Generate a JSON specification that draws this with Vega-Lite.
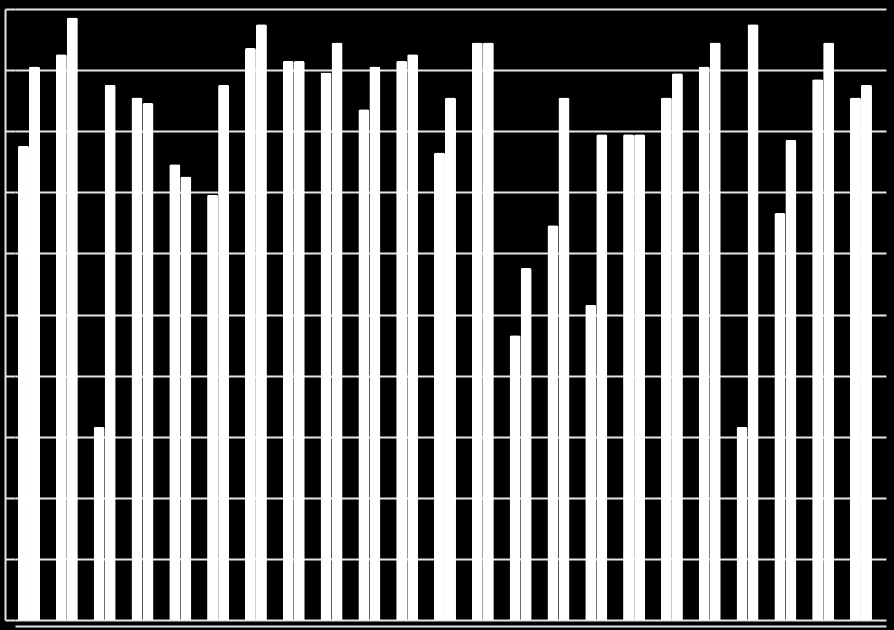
{
  "$schema": "https://vega.github.io/schema/vega-lite/v6.json",
  "width": 871,
  "height": 611,
  "autosize": {"type": "none"},
  "padding": {"left": 15, "top": 9, "right": 8, "bottom": 10},
  "background": "black",
  "data": {
    "values": [
      {"group": 1, "series": "A", "value": 77.6}, {"group": 1, "series": "B", "value": 90.6},
      {"group": 2, "series": "A", "value": 92.6}, {"group": 2, "series": "B", "value": 98.6},
      {"group": 3, "series": "A", "value": 31.6}, {"group": 3, "series": "B", "value": 87.6},
      {"group": 4, "series": "A", "value": 85.5}, {"group": 4, "series": "B", "value": 84.6},
      {"group": 5, "series": "A", "value": 74.6}, {"group": 5, "series": "B", "value": 72.6},
      {"group": 6, "series": "A", "value": 69.6}, {"group": 6, "series": "B", "value": 87.6},
      {"group": 7, "series": "A", "value": 93.6}, {"group": 7, "series": "B", "value": 97.5},
      {"group": 8, "series": "A", "value": 91.5}, {"group": 8, "series": "B", "value": 91.5},
      {"group": 9, "series": "A", "value": 89.6}, {"group": 9, "series": "B", "value": 94.5},
      {"group": 10, "series": "A", "value": 83.6}, {"group": 10, "series": "B", "value": 90.6},
      {"group": 11, "series": "A", "value": 91.5}, {"group": 11, "series": "B", "value": 92.6},
      {"group": 12, "series": "A", "value": 76.5}, {"group": 12, "series": "B", "value": 85.5},
      {"group": 13, "series": "A", "value": 94.5}, {"group": 13, "series": "B", "value": 94.5},
      {"group": 14, "series": "A", "value": 46.6}, {"group": 14, "series": "B", "value": 57.6},
      {"group": 15, "series": "A", "value": 64.6}, {"group": 15, "series": "B", "value": 85.5},
      {"group": 16, "series": "A", "value": 51.6}, {"group": 16, "series": "B", "value": 79.5},
      {"group": 17, "series": "A", "value": 79.5}, {"group": 17, "series": "B", "value": 79.5},
      {"group": 18, "series": "A", "value": 85.5}, {"group": 18, "series": "B", "value": 89.5},
      {"group": 19, "series": "A", "value": 90.6}, {"group": 19, "series": "B", "value": 94.5},
      {"group": 20, "series": "A", "value": 31.6}, {"group": 20, "series": "B", "value": 97.5},
      {"group": 21, "series": "A", "value": 66.6}, {"group": 21, "series": "B", "value": 78.6},
      {"group": 22, "series": "A", "value": 88.5}, {"group": 22, "series": "B", "value": 94.5},
      {"group": 23, "series": "A", "value": 85.5}, {"group": 23, "series": "B", "value": 87.6}
    ]
  },
  "mark": {
    "type": "bar",
    "fill": "white",
    "cornerRadiusTopLeft": 2,
    "cornerRadiusTopRight": 2
  },
  "encoding": {
    "x": {
      "field": "group",
      "type": "ordinal",
      "scale": {"paddingInner": 0.418, "paddingOuter": 0.225, "align": 0.176},
      "axis": {
        "title": null,
        "labels": false,
        "ticks": false,
        "domain": true,
        "domainColor": "#e6e6e6",
        "domainWidth": 2,
        "offset": 6
      }
    },
    "xOffset": {
      "field": "series",
      "type": "nominal",
      "scale": {"paddingInner": 0, "paddingOuter": 0}
    },
    "y": {
      "field": "value",
      "type": "quantitative",
      "scale": {"domain": [0, 100], "nice": false},
      "axis": {
        "title": null,
        "labels": false,
        "values": [0, 10, 20, 30, 40, 50, 60, 70, 80, 90, 100],
        "grid": true,
        "gridColor": "#e6e6e6",
        "gridWidth": 2,
        "gridOpacity": 1,
        "ticks": true,
        "tickSize": -10,
        "tickColor": "#e6e6e6",
        "tickWidth": 2,
        "domain": true,
        "domainColor": "#e6e6e6",
        "domainWidth": 2,
        "offset": 10
      }
    }
  },
  "config": {
    "view": {"stroke": null}
  }
}
